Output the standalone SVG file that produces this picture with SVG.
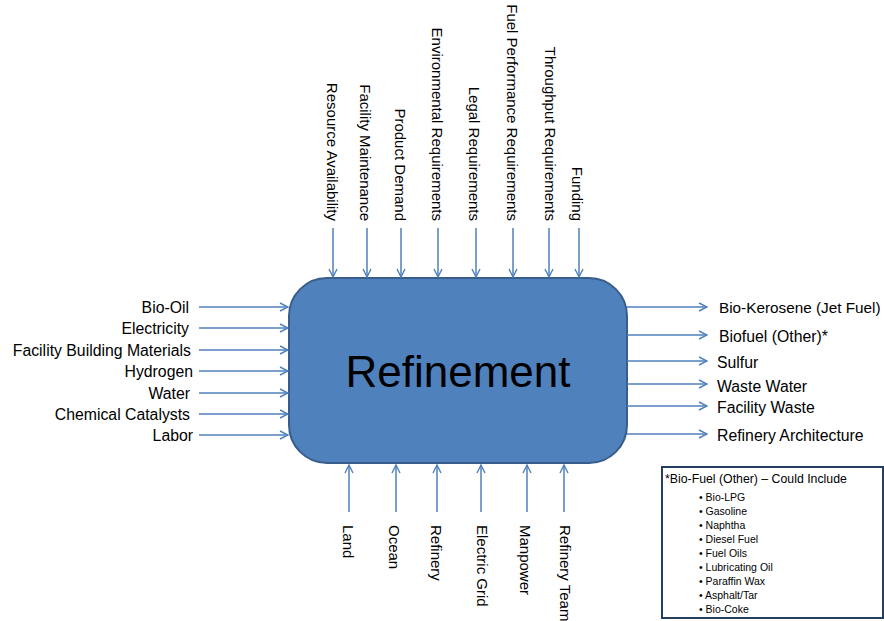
<svg xmlns="http://www.w3.org/2000/svg" width="884" height="621" viewBox="0 0 884 621">
<defs>
<marker id="ah" viewBox="0 0 10 10" refX="9" refY="5" markerWidth="10" markerHeight="10" markerUnits="userSpaceOnUse" orient="auto">
<path d="M1,1 L9,5 L1,9" fill="none" stroke="#4F81BD" stroke-width="1.4"/>
</marker>
</defs>
<style>
text{font-family:"Liberation Sans",Arial,sans-serif;fill:#000}
.lbl{font-size:15.8px}
.vl{font-size:15px}
.c line{stroke:#4F81BD;stroke-width:1.5;marker-end:url(#ah)}
.li{font-size:10.5px}
</style>
<rect width="884" height="621" fill="#fff"/>
<g id="refinement">
<rect x="289" y="278" width="338" height="185" rx="38" ry="38" fill="#4F81BD" stroke="#385D8A" stroke-width="2"/>
<text x="458" y="387" text-anchor="middle" font-size="44px">Refinement</text>
</g>
<g class="c" id="connectors">
<line x1="199" y1="307" x2="288" y2="307"/>
<line x1="199" y1="328" x2="288" y2="328"/>
<line x1="199" y1="350" x2="288" y2="350"/>
<line x1="199" y1="371" x2="288" y2="371"/>
<line x1="199" y1="393" x2="288" y2="393"/>
<line x1="199" y1="414" x2="288" y2="414"/>
<line x1="199" y1="435" x2="288" y2="435"/>
<line x1="627" y1="307" x2="707" y2="307"/>
<line x1="627" y1="335" x2="707" y2="335"/>
<line x1="627" y1="361" x2="707" y2="361"/>
<line x1="627" y1="384" x2="707" y2="384"/>
<line x1="627" y1="406" x2="707" y2="406"/>
<line x1="627" y1="434" x2="707" y2="434"/>
<line x1="333" y1="228" x2="333" y2="277"/>
<line x1="367" y1="228" x2="367" y2="277"/>
<line x1="401" y1="228" x2="401" y2="277"/>
<line x1="438" y1="228" x2="438" y2="277"/>
<line x1="476" y1="228" x2="476" y2="277"/>
<line x1="513" y1="228" x2="513" y2="277"/>
<line x1="549" y1="228" x2="549" y2="277"/>
<line x1="579" y1="228" x2="579" y2="277"/>
<line x1="349" y1="512" x2="349" y2="465"/>
<line x1="396" y1="512" x2="396" y2="465"/>
<line x1="437" y1="512" x2="437" y2="465"/>
<line x1="481" y1="512" x2="481" y2="465"/>
<line x1="527" y1="512" x2="527" y2="465"/>
<line x1="564" y1="512" x2="564" y2="465"/>
</g>
<g id="inputs" class="lbl" text-anchor="end">
<text id="in-biooil" x="189" y="312.5">Bio-Oil</text>
<text id="in-electricity" x="189" y="333.5">Electricity</text>
<text id="in-fbm" x="191" y="355.5">Facility Building Materials</text>
<text id="in-hydrogen" x="193" y="376.5">Hydrogen</text>
<text id="in-water" x="190" y="398.5">Water</text>
<text id="in-catalysts" x="190" y="419.5">Chemical Catalysts</text>
<text id="in-labor" x="193" y="440.5">Labor</text>
</g>
<g id="outputs" class="lbl">
<text id="out-kerosene" x="719" y="312.5" font-size="15.3px">Bio-Kerosene (Jet Fuel)</text>
<text id="out-biofuel" x="719" y="341.5">Biofuel (Other)*</text>
<text id="out-sulfur" x="717" y="367.5">Sulfur</text>
<text id="out-wastewater" x="717" y="391.5">Waste Water</text>
<text id="out-facwaste" x="717" y="412.5">Facility Waste</text>
<text id="out-arch" x="717" y="440.5">Refinery Architecture</text>
</g>
<g id="controls" class="vl" text-anchor="end">
<text id="ctl-resource" transform="translate(327,221) rotate(90)">Resource Availability</text>
<text id="ctl-maint" transform="translate(360,221) rotate(90)">Facility Maintenance</text>
<text id="ctl-demand" transform="translate(395,221) rotate(90)">Product Demand</text>
<text id="ctl-env" transform="translate(432,221) rotate(90)">Environmental Requirements</text>
<text id="ctl-legal" transform="translate(469,221) rotate(90)">Legal Requirements</text>
<text id="ctl-fuelperf" transform="translate(507,221) rotate(90)">Fuel Performance Requirements</text>
<text id="ctl-throughput" transform="translate(545,221) rotate(90)">Throughput Requirements</text>
<text id="ctl-funding" transform="translate(572,221) rotate(90)">Funding</text>
</g>
<g id="mechanisms" class="vl">
<text id="mech-land" transform="translate(343,525) rotate(90)">Land</text>
<text id="mech-ocean" transform="translate(389,525) rotate(90)">Ocean</text>
<text id="mech-refinery" transform="translate(431,525) rotate(90)">Refinery</text>
<text id="mech-grid" transform="translate(477,525) rotate(90)">Electric Grid</text>
<text id="mech-manpower" transform="translate(520,525) rotate(90)">Manpower</text>
<text id="mech-team" transform="translate(560,525) rotate(90)">Refinery Team</text>
</g>
<g id="legend">
<rect x="662" y="467" width="221" height="151" fill="#fff" stroke="#243F60" stroke-width="2"/>
<text x="665" y="483" font-size="12.3px">*Bio-Fuel (Other) – Could Include</text>
<g class="li">
<text x="699" y="500.5">• Bio-LPG</text>
<text x="699" y="514.5">• Gasoline</text>
<text x="699" y="528.5">• Naphtha</text>
<text x="699" y="542.5">• Diesel Fuel</text>
<text x="699" y="556.5">• Fuel Oils</text>
<text x="699" y="570.5">• Lubricating Oil</text>
<text x="699" y="584.5">• Paraffin Wax</text>
<text x="699" y="598.5">• Asphalt/Tar</text>
<text x="699" y="612.5">• Bio-Coke</text>
</g>
</g>
</svg>
